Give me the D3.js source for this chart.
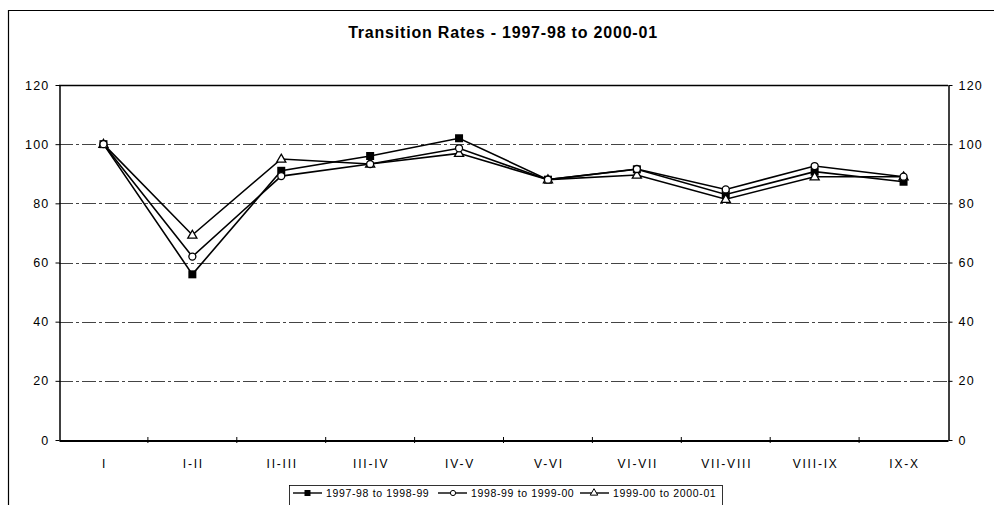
<!DOCTYPE html>
<html><head><meta charset="utf-8">
<script src="https://cdn.jsdelivr.net/npm/d3@7"></script>
<style>body{margin:0;background:#fff;}svg{display:block;font-family:Arial,"Liberation Sans",sans-serif;}</style>
</head><body>
<svg id="c" width="994" height="505"></svg>
<script>
const categories = ["I","I-II","II-III","III-IV","IV-V","V-VI","VI-VII","VII-VIII","VIII-IX","IX-X"];
const series1 = [100,56,91,96,102,88,91.5,83,90.7,87.3];
const series2 = [100,62,89.2,93.3,98.6,88,91.6,84.7,92.6,89];
const series3 = [100,69.3,95,93.3,96.9,88,89.6,81.4,89,89];
const seriesNames = ["1997-98 to 1998-99","1998-99 to 1999-00","1999-00 to 2000-01"];
const yTicks = [0,20,40,60,80,100,120];
const title = "Transition Rates - 1997-98 to 2000-01";

const svg = d3.select("#c");
const m = {l:59, r:948, t:85, b:440};
const x = d3.scaleBand().domain(categories).range([m.l, m.r]);
const y = d3.scaleLinear().domain([0,120]).range([m.b, m.t]);
const FF = "Arial,'Liberation Sans',sans-serif";

// outer border
svg.append("path").attr("d","M8.5,505 L8.5,10.5 L994,10.5").attr("fill","none").attr("stroke","#000").attr("stroke-width",1.2);

svg.append("text").attr("x",503).attr("y",38).attr("text-anchor","middle")
  .attr("font-size",16).attr("font-weight","bold").attr("letter-spacing",0.8).text(title);

// gridlines
svg.append("g").selectAll("line").data(yTicks.filter(d=>d>0 && d<120)).join("line")
  .attr("x1",m.l).attr("x2",m.r).attr("y1",d=>Math.round(y(d))+0.5).attr("y2",d=>Math.round(y(d))+0.5)
  .attr("stroke","#444").attr("stroke-width",1).attr("stroke-dasharray","14,3,3,3");
// top border
svg.append("line").attr("x1",m.l).attr("x2",m.r).attr("y1",m.t+0.5).attr("y2",m.t+0.5).attr("stroke","#000").attr("stroke-width",1.3);

// left axis
const ly = svg.append("g").attr("transform",`translate(${m.l+0.5},0)`)
  .call(d3.axisLeft(y).tickValues(yTicks).tickSize(4).tickSizeOuter(0));
ly.select(".domain").attr("stroke","#000").attr("stroke-width",1.5);
ly.selectAll("text").attr("font-size",12.5).attr("font-family",FF).attr("fill","#000").attr("x",-10).attr("letter-spacing",1.2);
// right axis
const ry = svg.append("g").attr("transform",`translate(${m.r+0.5},0)`)
  .call(d3.axisRight(y).tickValues(yTicks).tickSize(4).tickSizeOuter(0));
ry.select(".domain").attr("stroke","#000").attr("stroke-width",1.5);
ry.selectAll("text").attr("font-size",12.5).attr("font-family",FF).attr("fill","#000").attr("x",10).attr("letter-spacing",1.2);
// bottom axis
const bx = svg.append("g").attr("transform",`translate(0,${m.b+0.5})`)
  .call(d3.axisBottom(x).tickSize(0).tickSizeOuter(0));
bx.select(".domain").attr("stroke","#000").attr("stroke-width",2);
bx.selectAll("text").attr("font-size",12).attr("font-family",FF).attr("fill","#000")
  .attr("y",27).attr("dy",0).attr("letter-spacing",1.8).attr("dx",1);
svg.append("g").selectAll("line").data(categories.slice(1)).join("line")
  .attr("x1",d=>x(d)).attr("x2",d=>x(d)).attr("y1",m.b-3).attr("y2",m.b+3).attr("stroke","#000");

const cx = d => x(d) + x.bandwidth()/2;
const allSeries = [series1, series2, series3];
const line = d3.line().x((d,i)=>cx(categories[i])).y(d=>y(d));
const marker = (g, type, px, py) => {
  if (type===0) g.append("rect").attr("x",px-4).attr("y",py-4).attr("width",8).attr("height",8).attr("fill","#000");
  else if (type===1) g.append("circle").attr("cx",px).attr("cy",py).attr("r",3.5).attr("fill","#fff").attr("stroke","#000").attr("stroke-width",1.3);
  else g.append("path").attr("d",d3.symbol(d3.symbolTriangle,36)()).attr("transform",`translate(${px},${py+0.5})`).attr("fill","#fff").attr("stroke","#000").attr("stroke-width",1.3);
};
allSeries.forEach((s,k)=>{
  svg.append("path").datum(s).attr("d",line).attr("fill","none").attr("stroke","#000").attr("stroke-width",1.6);
});
[0,2,1].forEach(k=>{
  const g = svg.append("g");
  allSeries[k].forEach((v,i)=>marker(g,k,cx(categories[i]),y(v)));
});

// legend
const lg = svg.append("g");
lg.append("rect").attr("x",289.5).attr("y",485.5).attr("width",433).attr("height",40).attr("fill","none").attr("stroke","#000").attr("stroke-width",0.8);
const legX = [293, 438, 580];
seriesNames.forEach((n,k)=>{
  const lx = legX[k], ly0 = 493;
  lg.append("line").attr("x1",lx).attr("x2",lx+29).attr("y1",ly0).attr("y2",ly0).attr("stroke","#000").attr("stroke-width",1.4);
  if (k===0) lg.append("rect").attr("x",lx+11.5).attr("y",ly0-3).attr("width",6).attr("height",6).attr("fill","#000");
  else if (k===1) lg.append("circle").attr("cx",lx+15).attr("cy",ly0).attr("r",2.6).attr("fill","#fff").attr("stroke","#000");
  else lg.append("path").attr("d",d3.symbol(d3.symbolTriangle,24)()).attr("transform",`translate(${lx+14},${ly0})`).attr("fill","#fff").attr("stroke","#000");
  lg.append("text").attr("x",lx+33).attr("y",ly0+3.8).attr("font-size",10.5).attr("letter-spacing",0.65).text(n);
});
</script>
</body></html>
